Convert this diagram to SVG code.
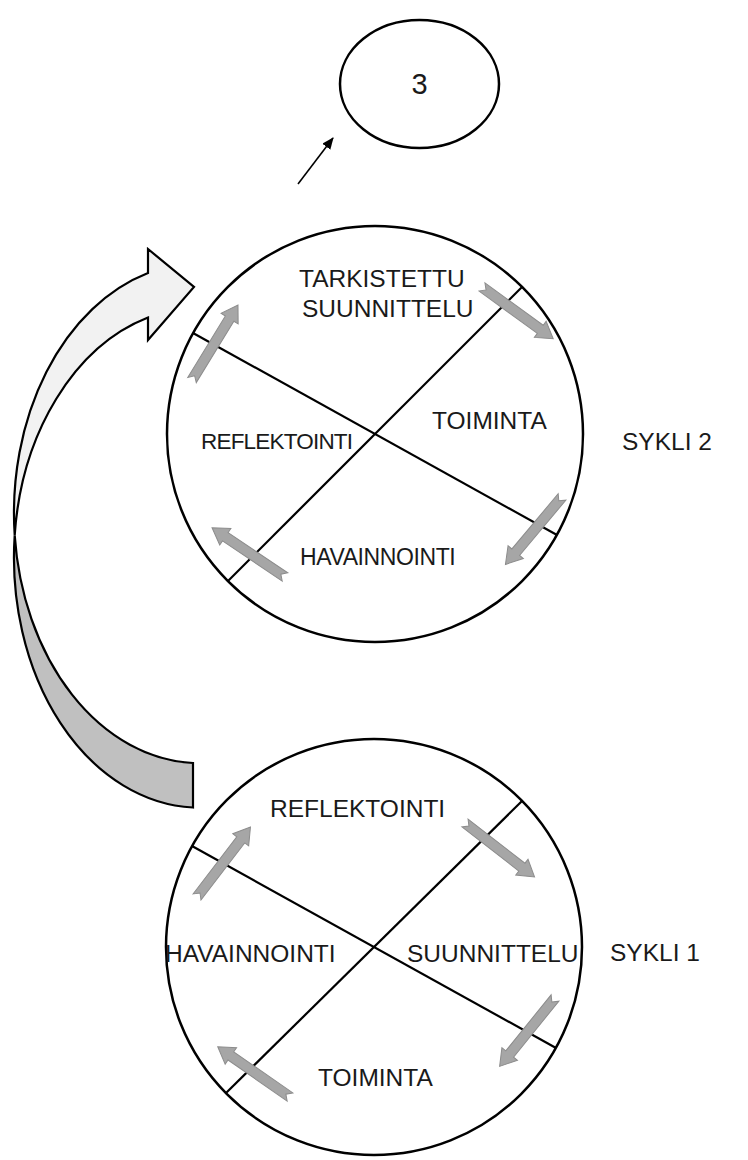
<svg xmlns="http://www.w3.org/2000/svg" xmlns:xlink="http://www.w3.org/1999/xlink" width="748" height="1160" viewBox="0 0 748 1160">
  <defs>
    <style>
      .ring { fill: #ffffff; stroke: #000000; stroke-width: 2.5; }
      .axis { stroke: #000000; stroke-width: 2.2; fill: none; }
      .lbl { font-family: "Liberation Sans", Arial, sans-serif; font-size: 24.5px; fill: #1a1a1a; }
      .sm { font-size: 22.5px; letter-spacing: -0.8px; }
      .md { font-size: 23px; letter-spacing: -0.4px; }
      .mid { text-anchor: middle; }
      .flow { fill: #a6a6a6; stroke: #8c8c8c; stroke-width: 1; }
      .band { stroke: #000000; stroke-width: 2.2; stroke-linejoin: miter; }
    </style>
    <!-- notched block arrow pointing along +x, tail at the origin -->
    <path id="blk" d="M0,-5 H72 V-10 L88,0 L72,10 V5 H0 L5,0 Z"/>
    <marker id="tip" viewBox="0 0 12 10" refX="11" refY="5" markerWidth="12" markerHeight="10" markerUnits="userSpaceOnUse" orient="auto">
      <path d="M0,0 L12,5 L0,10 Z" fill="#000"/>
    </marker>
  </defs>

  <rect width="748" height="1160" fill="#ffffff"/>

  <!-- connectors -->
  <g id="connectors">
    <!-- curved arrow from cycle 1 up to cycle 2: back face then front face -->
    <path class="band" fill="#c0c0c0" d="M14.7,535.3 A186,250 0 0 0 193,807.5 L193,763 A186,250 0 0 1 14.7,535.3 Z"/>
    <path class="band" fill="#f2f2f2" d="M148,273 A186,250 0 0 0 14.7,535.3 A186,250 0 0 1 148,317.5 L148,340 L194,287 L148,249 Z"/>
    <!-- pointer toward the next cycle -->
    <line x1="298" y1="184" x2="333" y2="138" stroke="#000" stroke-width="1.6" marker-end="url(#tip)"/>
  </g>

  <!-- next cycle -->
  <g id="cycle3">
    <ellipse cx="419.5" cy="84" rx="79.5" ry="64" fill="#fff" stroke="#000" stroke-width="2.5"/>
    <text class="lbl mid" x="419.5" y="94" style="font-size:29px">3</text>
  </g>

  <!-- cycle 2 -->
  <g id="cycle2">
    <circle class="ring" cx="375" cy="434" r="208"/>
    <line class="axis" x1="228" y1="581" x2="522" y2="287"/>
    <line class="axis" x1="193" y1="333" x2="557" y2="535"/>
    <use href="#blk" class="flow" transform="translate(192,380) rotate(-58.5)"/>
    <use href="#blk" class="flow" transform="translate(482,287) rotate(36)"/>
    <use href="#blk" class="flow" transform="translate(562,497) rotate(130)"/>
    <use href="#blk" class="flow" transform="translate(285,577) rotate(214)"/>
    <text class="lbl" x="299" y="287">TARKISTETTU</text>
    <text class="lbl" x="302" y="317">SUUNNITTELU</text>
    <text class="lbl" x="432" y="429">TOIMINTA</text>
    <text class="lbl sm" x="201" y="449">REFLEKTOINTI</text>
    <text class="lbl md" x="300" y="565">HAVAINNOINTI</text>
  </g>
  <g id="label-cycle2">
    <text class="lbl" x="622" y="450">SYKLI 2</text>
  </g>

  <!-- cycle 1 -->
  <g id="cycle1">
    <circle class="ring" cx="374" cy="947" r="208"/>
    <line class="axis" x1="226" y1="1093" x2="522" y2="801"/>
    <line class="axis" x1="192" y1="846" x2="556" y2="1048"/>
    <use href="#blk" class="flow" transform="translate(197,897) rotate(-52.6)"/>
    <use href="#blk" class="flow" transform="translate(465,823) rotate(37.8)"/>
    <use href="#blk" class="flow" transform="translate(555,998) rotate(129)"/>
    <use href="#blk" class="flow" transform="translate(290,1097) rotate(214.8)"/>
    <text class="lbl" x="270" y="817">REFLEKTOINTI</text>
    <text class="lbl" x="165" y="962">HAVAINNOINTI</text>
    <text class="lbl" x="407" y="962">SUUNNITTELU</text>
    <text class="lbl" x="318" y="1086">TOIMINTA</text>
  </g>
  <g id="label-cycle1">
    <text class="lbl" x="610" y="961">SYKLI 1</text>
  </g>
</svg>
